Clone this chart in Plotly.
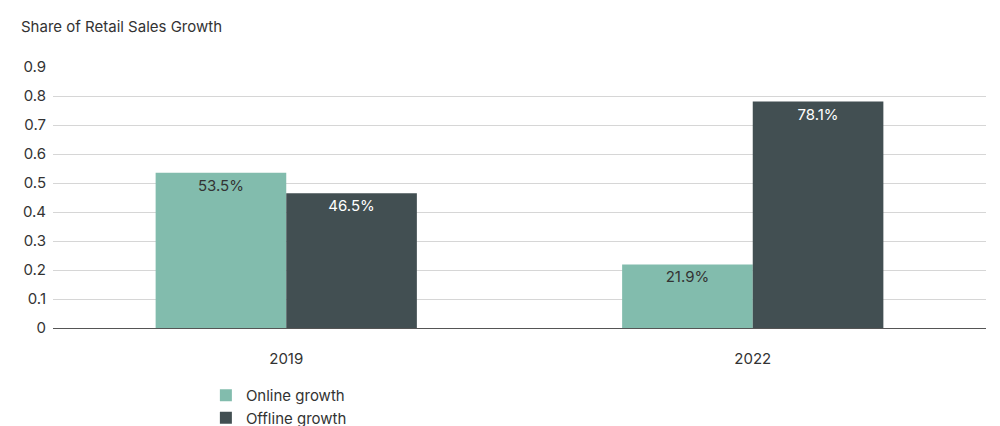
import plotly.graph_objects as go

years = ["2019", "2022"]
online = [0.535, 0.219]
offline = [0.465, 0.781]
y_ticks = [0, 0.1, 0.2, 0.3, 0.4, 0.5, 0.6, 0.7, 0.8, 0.9]
y_tick_text = ["0", "0.1", "0.2", "0.3", "0.4", "0.5", "0.6", "0.7", "0.8", "0.9"]

FONT = "Inter, Roboto, sans-serif"

fig = go.Figure()
fig.add_trace(go.Bar(
    x=years, y=online, name="Online growth",
    marker=dict(color="#82bcad", line=dict(width=0)),
    text=[f"{v*100:.1f}%" for v in online],
    textposition="inside", insidetextanchor="end",
    textfont=dict(color="#333333", size=15, family=FONT),
))
fig.add_trace(go.Bar(
    x=years, y=offline, name="Offline growth",
    marker=dict(color="#424f52", line=dict(width=0)),
    text=[f"{v*100:.1f}%" for v in offline],
    textposition="inside", insidetextanchor="end",
    textfont=dict(color="#ffffff", size=15, family=FONT),
))

fig.update_layout(
    width=1000, height=426,
    barmode="group", bargap=0.44, bargroupgap=0,
    plot_bgcolor="white", paper_bgcolor="white",
    font=dict(family=FONT, size=15, color="#333333"),
    margin=dict(l=45, r=22, t=59, b=78),
    title=dict(text="Share of Retail Sales Growth", x=0.013, xanchor="left",
               y=0.955, yanchor="middle", font=dict(size=15, color="#333333")),
    xaxis=dict(showgrid=False, showline=False, ticks="", tickfont=dict(size=15),
               ticklabelstandoff=20),
    yaxis=dict(range=[0, 0.9], tickvals=y_ticks, ticktext=y_tick_text,
               gridcolor="#d6d6d6", gridwidth=1, zeroline=True,
               zerolinecolor="#555555", zerolinewidth=1, ticks="",
               tickfont=dict(size=15), ticklabelstandoff=6),
    legend=dict(orientation="h", x=0.24, xanchor="left", y=-0.15, yanchor="top",
                entrywidth=350, font=dict(size=15), itemwidth=30,
                bgcolor="rgba(0,0,0,0)"),
    uniformtext=dict(minsize=10, mode="show"),
)

fig.write_html("out.html")
